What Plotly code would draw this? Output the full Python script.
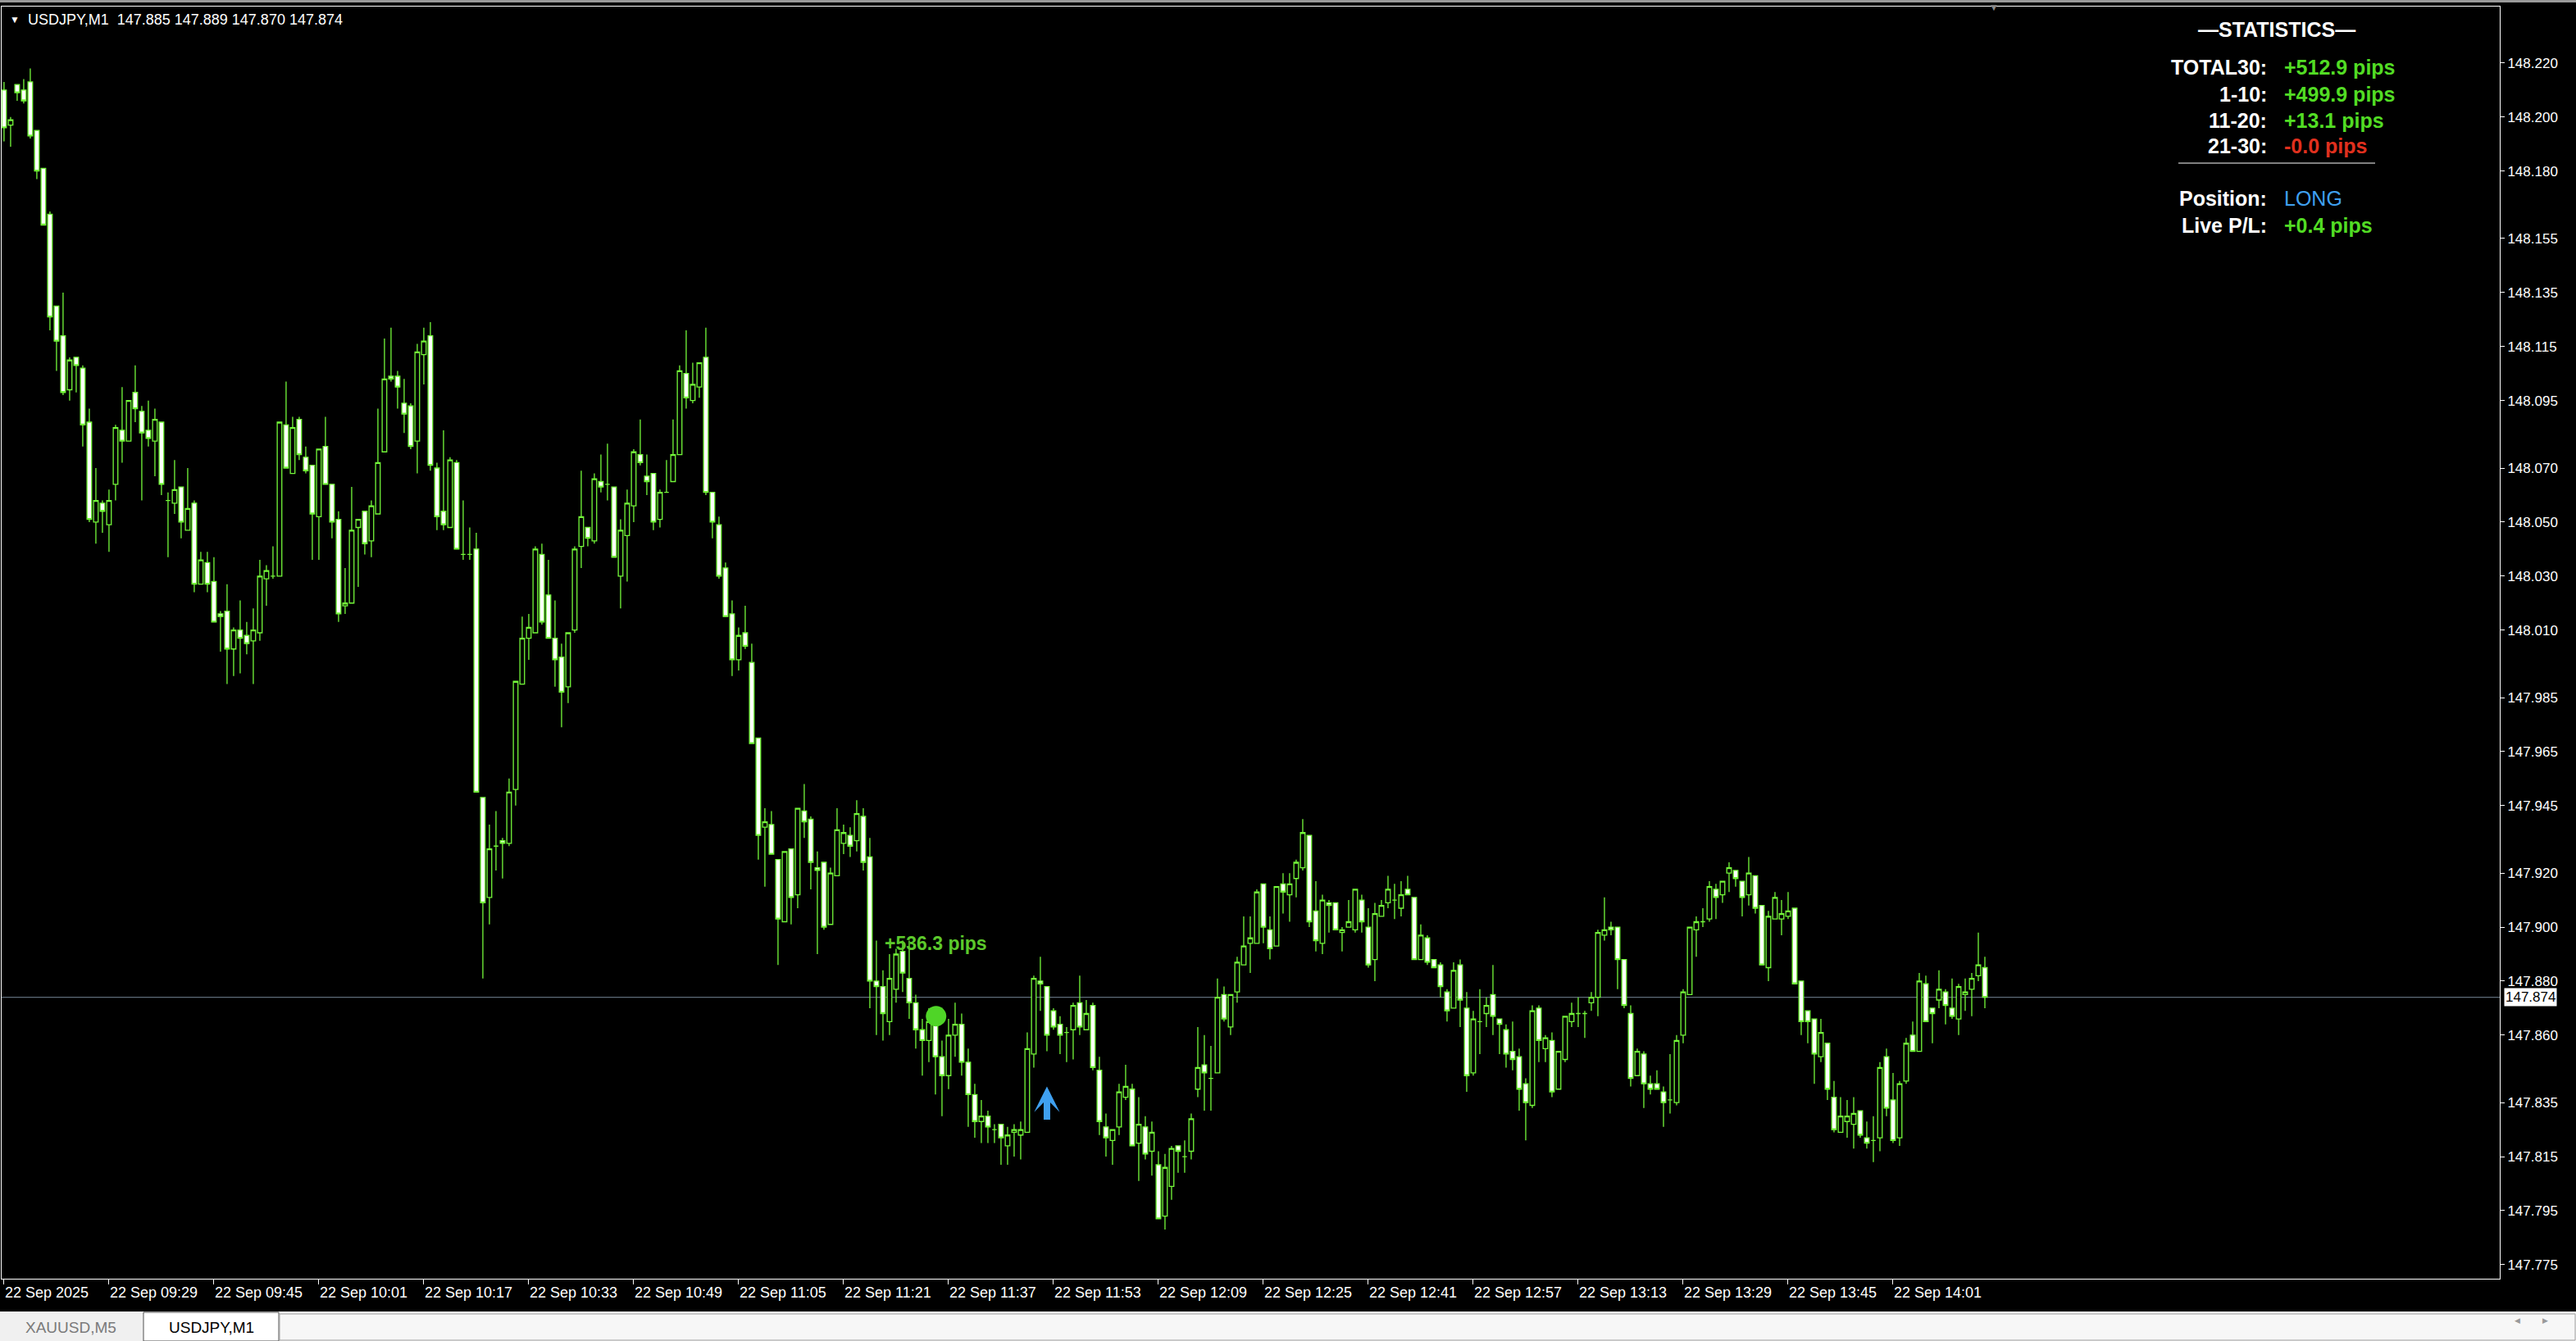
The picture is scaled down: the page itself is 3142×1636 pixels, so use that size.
import pandas as pd
import plotly.graph_objects as go

# ---- data: USDJPY M1 candles, 22 Sep 2025 from 09:13 ----
START = "2025-09-22 09:13"

OPEN = [
    148.210, 148.197, 148.212, 148.210, 148.213, 148.195, 148.181, 148.164, 148.130, 148.119,
    148.099, 148.111, 148.107, 148.087, 148.050, 148.057, 148.049, 148.064, 148.084, 148.080,
    148.098, 148.091, 148.084, 148.080, 148.087, 148.058, 148.057, 148.063, 148.047, 148.057,
    148.027, 148.035, 148.028, 148.016, 148.017, 148.003, 148.010, 148.008, 148.006, 148.009,
    148.029, 148.030, 148.030, 148.086, 148.068, 148.088, 148.074, 148.071, 148.052, 148.078,
    148.064, 148.051, 148.019, 148.020, 148.048, 148.054, 148.043, 148.053, 148.076, 148.104,
    148.104, 148.094, 148.093, 148.080, 148.112, 148.119, 148.070, 148.054, 148.048, 148.072,
    148.038, 148.038, 148.040, 147.948, 147.911, 147.930, 147.932, 147.931, 147.951, 147.990,
    148.007, 148.009, 148.038, 148.023, 148.007, 148.000, 147.989, 148.010, 148.041, 148.048,
    148.043, 148.065, 148.064, 148.063, 148.030, 148.045, 148.056, 148.075, 148.067, 148.068,
    148.051, 148.061, 148.065, 148.075, 148.105, 148.095, 148.100, 148.111, 148.061, 148.049,
    148.033, 148.016, 147.999, 148.009, 147.998, 147.970, 147.937, 147.938, 147.925, 147.902,
    147.929, 147.912, 147.943, 147.940, 147.922, 147.924, 147.901, 147.919, 147.931, 147.934,
    147.932, 147.941, 147.926, 147.880, 147.878, 147.865, 147.877, 147.891, 147.881, 147.872,
    147.862, 147.858, 147.865, 147.852, 147.845, 147.860, 147.864, 147.850, 147.838, 147.828,
    147.830, 147.825, 147.827, 147.819, 147.824, 147.823, 147.824, 147.853, 147.880, 147.878,
    147.869, 147.864, 147.861, 147.862, 147.872, 147.862, 147.871, 147.847, 147.826, 147.821,
    147.826, 147.837, 147.840, 147.820, 147.826, 147.817, 147.812, 147.793, 147.804, 147.819,
    147.815, 147.817, 147.840, 147.849, 147.844, 147.846, 147.875, 147.863, 147.876, 147.886,
    147.894, 147.894, 147.916, 147.899, 147.893, 147.916, 147.912, 147.918, 147.922, 147.934,
    147.906, 147.894, 147.909, 147.909, 147.898, 147.900, 147.899, 147.910, 147.900, 147.888,
    147.904, 147.909, 147.910, 147.907, 147.914, 147.911, 147.888, 147.896, 147.888, 147.886,
    147.876, 147.870, 147.886, 147.870, 147.846, 147.865, 147.868, 147.875, 147.866, 147.862,
    147.854, 147.852, 147.842, 147.834, 147.870, 147.855, 147.858, 147.840, 147.851, 147.865,
    147.868, 147.868, 147.872, 147.874, 147.897, 147.900, 147.900, 147.888, 147.868, 147.845,
    147.853, 147.842, 147.842, 147.839, 147.836, 147.835, 147.860, 147.875, 147.899, 147.902,
    147.903, 147.914, 147.912, 147.920, 147.921, 147.917, 147.912, 147.919, 147.908, 147.885,
    147.903, 147.903, 147.904, 147.907, 147.880, 147.869, 147.866, 147.852, 147.857, 147.837,
    147.824, 147.828, 147.827, 147.832, 147.822, 147.821, 147.822, 147.852, 147.836, 147.822,
    147.843, 147.860, 147.854, 147.879, 147.870, 147.873, 147.876, 147.870, 147.866, 147.875,
    147.877, 147.882, 147.885,
]

HIGH = [
    148.213, 148.200, 148.212, 148.214, 148.218, 148.195, 148.181, 148.165, 148.130, 148.135,
    148.111, 148.111, 148.108, 148.092, 148.070, 148.058, 148.062, 148.086, 148.100, 148.095,
    148.108, 148.093, 148.095, 148.092, 148.087, 148.061, 148.073, 148.063, 148.070, 148.058,
    148.039, 148.039, 148.037, 148.017, 148.027, 148.011, 148.021, 148.013, 148.018, 148.036,
    148.034, 148.041, 148.087, 148.102, 148.089, 148.089, 148.078, 148.071, 148.077, 148.089,
    148.064, 148.054, 148.033, 148.063, 148.051, 148.054, 148.058, 148.092, 148.118, 148.122,
    148.106, 148.103, 148.094, 148.116, 148.122, 148.124, 148.072, 148.084, 148.074, 148.073,
    148.058, 148.048, 148.046, 147.948, 147.938, 147.943, 147.933, 147.955, 147.991, 148.015,
    148.016, 148.041, 148.042, 148.036, 148.021, 148.005, 148.009, 148.041, 148.069, 148.048,
    148.068, 148.075, 148.079, 148.063, 148.051, 148.062, 148.077, 148.088, 148.075, 148.068,
    148.062, 148.073, 148.088, 148.108, 148.121, 148.109, 148.109, 148.122, 148.061, 148.052,
    148.035, 148.021, 148.011, 148.019, 148.005, 147.970, 147.944, 147.943, 147.925, 147.928,
    147.929, 147.944, 147.953, 147.941, 147.928, 147.924, 147.922, 147.944, 147.938, 147.937,
    147.947, 147.944, 147.933, 147.895, 147.884, 147.890, 147.892, 147.895, 147.895, 147.875,
    147.866, 147.870, 147.870, 147.858, 147.866, 147.872, 147.868, 147.855, 147.842, 147.836,
    147.832, 147.827, 147.827, 147.826, 147.827, 147.828, 147.861, 147.882, 147.889, 147.878,
    147.870, 147.867, 147.863, 147.872, 147.882, 147.873, 147.872, 147.852, 147.831, 147.825,
    147.842, 147.849, 147.842, 147.837, 147.830, 147.828, 147.817, 147.816, 147.819, 147.819,
    147.821, 147.831, 147.863, 147.860, 147.856, 147.881, 147.878, 147.875, 147.889, 147.904,
    147.904, 147.914, 147.916, 147.904, 147.915, 147.920, 147.920, 147.925, 147.940, 147.934,
    147.917, 147.912, 147.910, 147.909, 147.900, 147.910, 147.914, 147.912, 147.907, 147.909,
    147.910, 147.919, 147.916, 147.917, 147.919, 147.911, 147.901, 147.897, 147.888, 147.887,
    147.877, 147.887, 147.888, 147.876, 147.869, 147.877, 147.874, 147.886, 147.866, 147.864,
    147.865, 147.855, 147.844, 147.871, 147.871, 147.860, 147.861, 147.854, 147.867, 147.872,
    147.874, 147.869, 147.876, 147.899, 147.911, 147.902, 147.900, 147.888, 147.871, 147.855,
    147.854, 147.845, 147.847, 147.841, 147.853, 147.860, 147.877, 147.900, 147.904, 147.907,
    147.917, 147.916, 147.917, 147.924, 147.921, 147.917, 147.926, 147.919, 147.908, 147.906,
    147.913, 147.910, 147.913, 147.907, 147.880, 147.869, 147.866, 147.866, 147.857, 147.843,
    147.837, 147.836, 147.837, 147.832, 147.828, 147.830, 147.850, 147.855, 147.846, 147.843,
    147.859, 147.865, 147.883, 147.882, 147.870, 147.884, 147.877, 147.881, 147.879, 147.881,
    147.883, 147.898, 147.889,
]

LOW = [
    148.191, 148.189, 148.206, 148.205, 148.192, 148.177, 148.160, 148.121, 148.106, 148.097,
    148.095, 148.098, 148.078, 148.050, 148.042, 148.046, 148.039, 148.058, 148.072, 148.080,
    148.087, 148.058, 148.078, 148.067, 148.060, 148.037, 148.053, 148.044, 148.047, 148.024,
    148.027, 148.024, 148.013, 148.002, 147.990, 147.993, 147.994, 148.001, 147.990, 148.006,
    148.019, 148.029, 148.030, 148.070, 148.068, 148.073, 148.068, 148.036, 148.036, 148.064,
    148.044, 148.013, 148.016, 148.020, 148.026, 148.038, 148.037, 148.053, 148.076, 148.102,
    148.092, 148.083, 148.077, 148.068, 148.101, 148.069, 148.047, 148.047, 148.048, 148.040,
    148.036, 148.036, 147.950, 147.881, 147.901, 147.921, 147.918, 147.930, 147.945, 147.990,
    147.999, 148.009, 148.012, 148.007, 147.989, 147.974, 147.983, 148.009, 148.033, 148.041,
    148.042, 148.061, 148.058, 148.037, 148.018, 148.028, 148.050, 148.071, 148.060, 148.047,
    148.048, 148.061, 148.065, 148.075, 148.092, 148.094, 148.096, 148.060, 148.044, 148.029,
    148.015, 147.993, 147.995, 148.003, 147.968, 147.925, 147.915, 147.927, 147.886, 147.902,
    147.901, 147.907, 147.933, 147.914, 147.890, 147.899, 147.901, 147.919, 147.927, 147.926,
    147.928, 147.921, 147.870, 147.860, 147.858, 147.860, 147.872, 147.876, 147.866, 147.855,
    147.845, 147.850, 147.838, 147.830, 147.840, 147.852, 147.845, 147.826, 147.822, 147.820,
    147.820, 147.820, 147.812, 147.812, 147.815, 147.814, 147.824, 147.848, 147.869, 147.854,
    147.862, 147.853, 147.850, 147.851, 147.860, 147.862, 147.847, 147.823, 147.815, 147.812,
    147.823, 147.836, 147.819, 147.806, 147.814, 147.808, 147.792, 147.788, 147.799, 147.809,
    147.809, 147.814, 147.837, 147.832, 147.832, 147.846, 147.865, 147.860, 147.872, 147.886,
    147.883, 147.894, 147.894, 147.888, 147.893, 147.905, 147.902, 147.911, 147.921, 147.900,
    147.891, 147.890, 147.898, 147.899, 147.891, 147.900, 147.898, 147.898, 147.885, 147.880,
    147.904, 147.907, 147.903, 147.904, 147.912, 147.888, 147.888, 147.886, 147.885, 147.874,
    147.865, 147.870, 147.863, 147.839, 147.845, 147.853, 147.863, 147.860, 147.853, 147.848,
    147.847, 147.832, 147.821, 147.833, 147.850, 147.850, 147.837, 147.840, 147.850, 147.863,
    147.863, 147.859, 147.869, 147.867, 147.895, 147.897, 147.877, 147.870, 147.841, 147.845,
    147.833, 147.838, 147.840, 147.826, 147.831, 147.834, 147.857, 147.875, 147.889, 147.900,
    147.902, 147.903, 147.909, 147.913, 147.915, 147.904, 147.908, 147.905, 147.886, 147.880,
    147.903, 147.897, 147.903, 147.879, 147.860, 147.857, 147.842, 147.850, 147.836, 147.824,
    147.824, 147.822, 147.818, 147.822, 147.818, 147.813, 147.817, 147.830, 147.820, 147.819,
    147.842, 147.854, 147.854, 147.865, 147.857, 147.870, 147.864, 147.866, 147.860, 147.869,
    147.867, 147.880, 147.870,
]

CLOSE = [
    148.196, 148.199, 148.209, 148.206, 148.193, 148.180, 148.160, 148.126, 148.117, 148.098,
    148.110, 148.108, 148.086, 148.051, 148.058, 148.054, 148.058, 148.085, 148.080, 148.095,
    148.092, 148.083, 148.081, 148.088, 148.064, 148.058, 148.062, 148.050, 148.055, 148.027,
    148.036, 148.027, 148.013, 148.015, 148.003, 148.010, 148.007, 148.005, 148.010, 148.030,
    148.032, 148.030, 148.087, 148.070, 148.085, 148.075, 148.069, 148.053, 148.077, 148.064,
    148.050, 148.016, 148.020, 148.047, 148.051, 148.042, 148.056, 148.072, 148.103, 148.103,
    148.100, 148.090, 148.078, 148.113, 148.117, 148.071, 148.052, 148.049, 148.073, 148.040,
    148.038, 148.038, 147.950, 147.909, 147.929, 147.930, 147.931, 147.950, 147.991, 148.007,
    148.011, 148.040, 148.013, 148.007, 147.999, 147.987, 148.009, 148.040, 148.052, 148.044,
    148.066, 148.063, 148.064, 148.037, 148.047, 148.057, 148.076, 148.072, 148.065, 148.050,
    148.061, 148.061, 148.075, 148.106, 148.096, 148.101, 148.109, 148.061, 148.050, 148.030,
    148.015, 147.999, 148.008, 148.004, 147.968, 147.934, 147.939, 147.927, 147.903, 147.928,
    147.911, 147.944, 147.939, 147.924, 147.921, 147.900, 147.920, 147.936, 147.935, 147.930,
    147.942, 147.924, 147.880, 147.878, 147.868, 147.881, 147.890, 147.883, 147.872, 147.862,
    147.858, 147.865, 147.852, 147.845, 147.860, 147.864, 147.850, 147.838, 147.828, 147.830,
    147.826, 147.825, 147.822, 147.823, 147.825, 147.825, 147.855, 147.881, 147.879, 147.860,
    147.863, 147.860, 147.861, 147.871, 147.863, 147.868, 147.848, 147.828, 147.822, 147.825,
    147.839, 147.841, 147.819, 147.827, 147.816, 147.824, 147.792, 147.811, 147.818, 147.817,
    147.815, 147.829, 147.848, 147.846, 147.844, 147.874, 147.866, 147.875, 147.887, 147.893,
    147.896, 147.913, 147.900, 147.892, 147.915, 147.913, 147.916, 147.924, 147.935, 147.902,
    147.895, 147.910, 147.908, 147.899, 147.899, 147.902, 147.914, 147.902, 147.886, 147.905,
    147.908, 147.914, 147.910, 147.912, 147.912, 147.888, 147.897, 147.887, 147.885, 147.878,
    147.869, 147.884, 147.873, 147.845, 147.866, 147.865, 147.871, 147.867, 147.864, 147.853,
    147.851, 147.840, 147.835, 147.869, 147.858, 147.859, 147.839, 147.854, 147.867, 147.868,
    147.868, 147.868, 147.874, 147.898, 147.899, 147.899, 147.888, 147.871, 147.844, 147.854,
    147.842, 147.840, 147.840, 147.835, 147.836, 147.858, 147.876, 147.900, 147.902, 147.902,
    147.915, 147.911, 147.917, 147.922, 147.918, 147.911, 147.920, 147.907, 147.886, 147.904,
    147.911, 147.905, 147.906, 147.879, 147.865, 147.865, 147.853, 147.861, 147.840, 147.825,
    147.830, 147.830, 147.831, 147.823, 147.820, 147.821, 147.848, 147.833, 147.821, 147.842,
    147.857, 147.854, 147.880, 147.865, 147.868, 147.877, 147.871, 147.867, 147.878, 147.876,
    147.881, 147.886, 147.874,
]

PRICE_TICKS = [148.220, 148.200, 148.180, 148.155, 148.135, 148.115, 148.095, 148.070,
               148.050, 148.030, 148.010, 147.985, 147.965, 147.945, 147.920, 147.900,
               147.880, 147.860, 147.835, 147.815, 147.795, 147.775]
TIME_TICK_LABELS = ["22 Sep 2025", "22 Sep 09:29", "22 Sep 09:45", "22 Sep 10:01",
                    "22 Sep 10:17", "22 Sep 10:33", "22 Sep 10:49", "22 Sep 11:05",
                    "22 Sep 11:21", "22 Sep 11:37", "22 Sep 11:53", "22 Sep 12:09",
                    "22 Sep 12:25", "22 Sep 12:41", "22 Sep 12:57", "22 Sep 13:13",
                    "22 Sep 13:29", "22 Sep 13:45", "22 Sep 14:01"]

LAST_PRICE = 147.874
ENTRY_TIME, ENTRY_PRICE = "2025-09-22 11:35:06", 147.867
SIGNAL_TIME, SIGNAL_PRICE = "2025-09-22 11:52", 147.841
LABEL_TIME, LABEL_PRICE = "2025-09-22 11:27", 147.894

STAT_LABELS = ["TOTAL30:", "1-10:", "11-20:", "21-30:", "Position:", "Live P/L:"]
STAT_VALUES = ["+512.9 pips", "+499.9 pips", "+13.1 pips", "-0.0 pips", "LONG", "+0.4 pips"]

# ---- styling ----
GREEN = "#74F83A"
TEXT_GREEN = "#52DC24"
RED = "#E0301E"
BLUE = "#3FA0F0"
FONT = "Liberation Sans"

W, H = 3142, 1636
L, R, T, B = 2, 93, 8, 76
PW, PH = W - L - R, H - T - B


def px(x):
    return (x - L) / PW


def py(y):
    return (H - B - y) / PH


start = pd.Timestamp(START)
times = [start + pd.Timedelta(minutes=i) for i in range(len(OPEN))]
tick_times = [start + pd.Timedelta(minutes=16 * k) for k in range(len(TIME_TICK_LABELS))]

fig = go.Figure()
fig.add_trace(go.Candlestick(
    x=times, open=OPEN, high=HIGH, low=LOW, close=CLOSE,
    increasing=dict(line=dict(color=GREEN, width=1.3), fillcolor="#000000"),
    decreasing=dict(line=dict(color=GREEN, width=1.3), fillcolor="#FFFFFF"),
    whiskerwidth=0, hoverinfo="skip",
))
fig.add_trace(go.Scatter(
    x=[pd.Timestamp(ENTRY_TIME)], y=[ENTRY_PRICE], mode="markers",
    marker=dict(size=25, color="#4FD527", line=dict(width=0)), hoverinfo="skip",
))

annotations = []
# header
annotations.append(dict(xref="paper", yref="paper", x=px(10), y=py(24), text="▼",
                        showarrow=False, xanchor="left", yanchor="middle",
                        font=dict(family=FONT, size=12, color="white")))
annotations.append(dict(xref="paper", yref="paper", x=px(32), y=py(24),
                        text="USDJPY,M1\u00a0\u00a0147.885 147.889 147.870 147.874",
                        showarrow=False, xanchor="left", yanchor="middle",
                        font=dict(family=FONT, size=18, color="white")))
annotations.append(dict(xref="paper", yref="paper", x=px(2432), y=py(9), text="▼",
                        showarrow=False, xanchor="center", yanchor="middle",
                        font=dict(family=FONT, size=12, color="#8A8A8A")))
# last price tag
annotations.append(dict(xref="paper", yref="y", x=px(3054), y=LAST_PRICE, text=f"{LAST_PRICE:.3f}",
                        showarrow=False, xanchor="left", yanchor="middle", bgcolor="white",
                        borderpad=1, font=dict(family=FONT, size=17, color="black")))
# statistics panel
annotations.append(dict(xref="paper", yref="paper", x=px(2777), y=py(36),
                        text="<b>—STATISTICS—</b>", showarrow=False, xanchor="center",
                        yanchor="middle", font=dict(family=FONT, size=25, color="white")))
rows_y = [82, 115, 147, 178, 242, 275]
value_colors = [TEXT_GREEN, TEXT_GREEN, TEXT_GREEN, RED, BLUE, TEXT_GREEN]
for lab, val, yy, col in zip(STAT_LABELS, STAT_VALUES, rows_y, value_colors):
    annotations.append(dict(xref="paper", yref="paper", x=px(2767), y=py(yy), text=f"<b>{lab}</b>",
                            showarrow=False, xanchor="right", yanchor="middle",
                            font=dict(family=FONT, size=25, color="white")))
    val_text = val if val == "LONG" else f"<b>{val}</b>"
    annotations.append(dict(xref="paper", yref="paper", x=px(2784), y=py(yy), text=val_text,
                            showarrow=False, xanchor="left", yanchor="middle",
                            font=dict(family=FONT, size=25, color=col)))
# trade annotations
annotations.append(dict(x=pd.Timestamp(LABEL_TIME), y=LABEL_PRICE, text="<b>+536.3 pips</b>",
                        showarrow=False, xanchor="left", yanchor="middle",
                        font=dict(family=FONT, size=23, color="#5CC92C")))
annotations.append(dict(x=pd.Timestamp(SIGNAL_TIME), y=SIGNAL_PRICE, text="", showarrow=True,
                        ax=0, ay=42, arrowhead=3, arrowsize=0.65, arrowwidth=8, arrowcolor=BLUE))
# bottom tabs
annotations.append(dict(xref="paper", yref="paper", x=px(86), y=py(1619), text="XAUUSD,M5",
                        showarrow=False, xanchor="center", yanchor="middle",
                        font=dict(family=FONT, size=19, color="#7A7A7A")))
annotations.append(dict(xref="paper", yref="paper", x=px(258), y=py(1619), text="USDJPY,M1",
                        showarrow=False, xanchor="center", yanchor="middle",
                        font=dict(family=FONT, size=19, color="black")))
annotations.append(dict(xref="paper", yref="paper", x=px(3076), y=py(1618), text="◀",
                        showarrow=False, font=dict(family=FONT, size=9, color="#9A9A9A")))
annotations.append(dict(xref="paper", yref="paper", x=px(3110), y=py(1618), text="▶",
                        showarrow=False, font=dict(family=FONT, size=9, color="#9A9A9A")))

shapes = [
    # window chrome
    dict(type="rect", xref="paper", yref="paper", x0=px(0), x1=px(W), y0=py(0), y1=py(3),
         fillcolor="#9A9A9A", line=dict(width=0), layer="below"),
    dict(type="rect", xref="paper", yref="paper", x0=px(0), x1=px(W), y0=py(1600), y1=py(H),
         fillcolor="#F0F0F0", line=dict(width=0), layer="below"),
    dict(type="rect", xref="paper", yref="paper", x0=px(175), x1=px(340), y0=py(1601), y1=py(H),
         fillcolor="#FFFFFF", line=dict(color="#505050", width=1), layer="below"),
    dict(type="rect", xref="paper", yref="paper", x0=px(341), x1=px(W - 1), y0=py(1603), y1=py(H - 1),
         fillcolor="#F7F7F7", line=dict(color="#A0A0A0", width=1), layer="below"),
    # current price line
    dict(type="line", xref="paper", yref="y", x0=0, x1=1, y0=LAST_PRICE, y1=LAST_PRICE,
         line=dict(color="#778899", width=1), layer="below"),
    # statistics separator
    dict(type="line", xref="paper", yref="paper", x0=px(2657), x1=px(2897), y0=py(199), y1=py(199),
         line=dict(color="white", width=1)),
]

fig.update_layout(
    width=W, height=H,
    margin=dict(l=L, r=R, t=T, b=B),
    paper_bgcolor="#000000", plot_bgcolor="#000000",
    showlegend=False, hovermode=False,
    boxgap=0.3, boxgroupgap=0,
    xaxis=dict(
        type="date",
        range=[start - pd.Timedelta(seconds=22), start + pd.Timedelta(minutes=380.5)],
        rangeslider=dict(visible=False),
        showgrid=False, zeroline=False,
        showline=True, mirror=True, linecolor="white", linewidth=1,
        ticks="outside", ticklen=6, tickcolor="white", tickwidth=1,
        tickvals=tick_times, ticktext=TIME_TICK_LABELS,
        ticklabelposition="outside right",
        tickfont=dict(family=FONT, size=18, color="white"),
    ),
    yaxis=dict(
        side="right",
        range=[147.7698, 148.2409],
        showgrid=False, zeroline=False,
        showline=True, mirror=True, linecolor="white", linewidth=1,
        ticks="outside", ticklen=5, tickcolor="white", tickwidth=1,
        tickvals=PRICE_TICKS, ticktext=[f"{v:.3f}" for v in PRICE_TICKS],
        tickfont=dict(family=FONT, size=17, color="white"),
    ),
    annotations=annotations,
    shapes=shapes,
)

fig.write_html("out.html", config={"displayModeBar": False},
               post_script="document.body.style.margin='0';")
